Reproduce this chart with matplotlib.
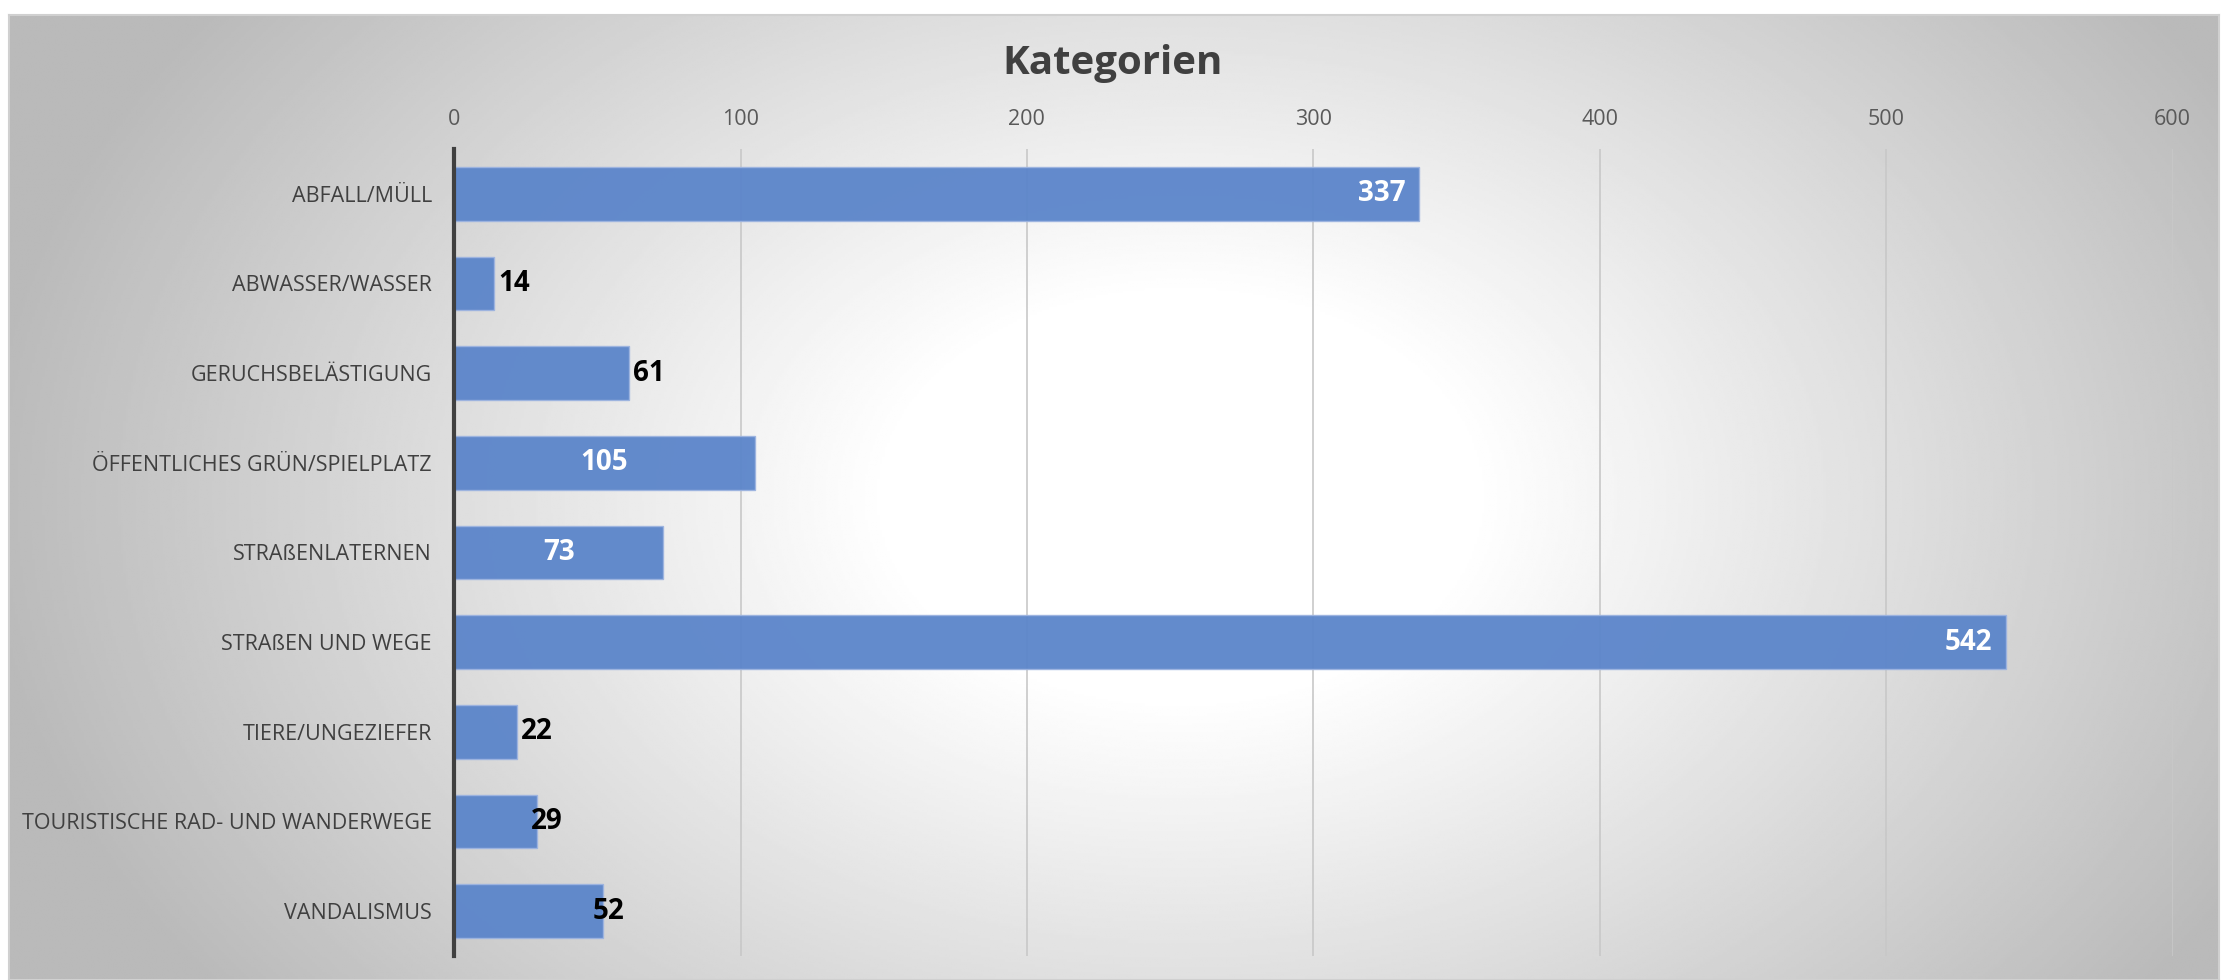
import numpy as np
import matplotlib.pyplot as plt

categories = ['ABFALL/MÜLL', 'ABWASSER/WASSER', 'GERUCHSBELÄSTIGUNG',
              'ÖFFENTLICHES GRÜN/SPIELPLATZ', 'STRAßENLATERNEN', 'STRAßEN UND WEGE',
              'TIERE/UNGEZIEFER', 'TOURISTISCHE RAD- UND WANDERWEGE', 'VANDALISMUS']
counts = [337, 14, 61, 105, 73, 542, 22, 29, 52]
ticks = [0, 100, 200, 300, 400, 500, 600]

# label placement as Excel drew it: 'end' = inside end, 'center', or outside with pixel offset
label_pos = ['end', 4, 4, 'center', 'center', 'end', 4, -6, -10]

plt.rcParams['font.family'] = ['Open Sans', 'DejaVu Sans']

fig = plt.figure(figsize=(22.26, 9.8), dpi=100)

# radial gradient background
bg = fig.add_axes([0.004, 0.0, 0.993, 0.985])
yy, xx = np.mgrid[0:1:400j, 0:1:900j]
r = np.sqrt(((xx - 0.53) / 0.6) ** 2 + ((yy - 0.5) / 0.95) ** 2)
shade = 1.0 - 0.27 * np.clip((r - 0.22) / 0.68, 0, 1)
bg.imshow(shade, cmap='gray', vmin=0, vmax=1, aspect='auto', extent=[0, 1, 0, 1])
bg.set_xticks([])
bg.set_yticks([])
for s in bg.spines.values():
    s.set_color('#d0d0d0')
    s.set_linewidth(1.5)

ax = fig.add_axes([0.204, 0.0245, 0.772, 0.8235])
ax.patch.set_alpha(0)
y = np.arange(len(categories))
bars = ax.barh(y, counts, height=0.6, color='#5b85ca', edgecolor='#9db4e0',
               linewidth=1, alpha=0.95, zorder=2)
ax.set_ylim(len(categories) - 0.5, -0.5)
ax.set_xlim(0, 600)
ax.set_yticks(y)
ax.set_yticklabels(categories, fontsize=15.5, color='#404040')
ax.xaxis.tick_top()
ax.set_xticks(ticks)
ax.set_xticklabels([str(t) for t in ticks], fontsize=15.5, color='#595959')
ax.tick_params(length=0, pad=16)
ax.tick_params(axis='x', pad=14)
ax.grid(axis='x', color='#c8c8c8', linewidth=1.2, zorder=0)
for side in ['top', 'right', 'bottom']:
    ax.spines[side].set_visible(False)
ax.spines['left'].set_color('#404040')
ax.spines['left'].set_linewidth(3)
ax.spines['left'].set_zorder(3)

for yi, v, pos in zip(y, counts, label_pos):
    if pos == 'end':
        ax.annotate(str(v), (v, yi), xytext=(-14, 0), textcoords='offset pixels',
                    ha='right', va='center', fontsize=20, fontweight='bold', color='white')
    elif pos == 'center':
        ax.annotate(str(v), (v / 2, yi), ha='center', va='center',
                    fontsize=20, fontweight='bold', color='white')
    else:
        ax.annotate(str(v), (v, yi), xytext=(pos, 0), textcoords='offset pixels',
                    ha='left', va='center', fontsize=20, fontweight='bold', color='black')

fig.text(0.5, 0.935, 'Kategorien', ha='center', va='center', fontsize=29,
         fontweight='bold', color='#404040')

fig.savefig('out.png', dpi=100)
